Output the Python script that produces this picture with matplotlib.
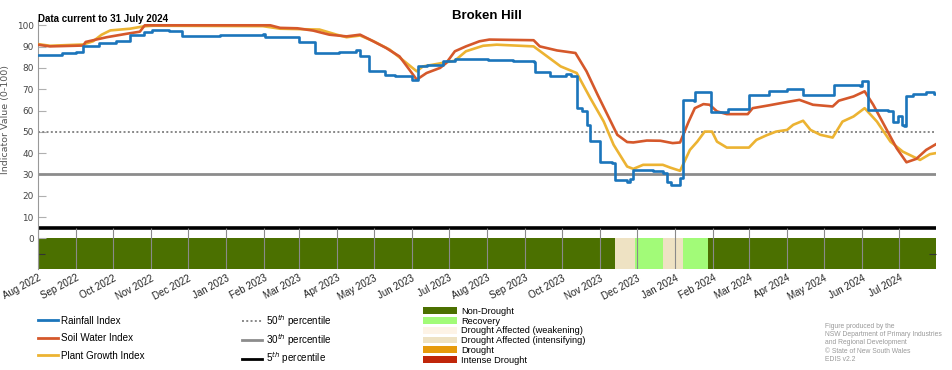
import matplotlib.pyplot as plt
import matplotlib.dates as mdates
from matplotlib.lines import Line2D
from matplotlib.patches import Patch
import pandas as pd

# Rainfall Index (step series: value holds from the date onward)
rain_dates = ['2022-08-01', '2022-08-21', '2022-09-01', '2022-09-07', '2022-09-20', '2022-10-04',
              '2022-10-12', '2022-10-15', '2022-10-26', '2022-11-02', '2022-11-16', '2022-11-26',
              '2022-12-27', '2023-01-31', '2023-02-02', '2023-03-01', '2023-03-14', '2023-04-03',
              '2023-04-17', '2023-04-20', '2023-04-27', '2023-05-10', '2023-05-18', '2023-06-01',
              '2023-06-06', '2023-06-13', '2023-06-26', '2023-07-06', '2023-08-02', '2023-08-22',
              '2023-09-08', '2023-09-09', '2023-09-21', '2023-10-04', '2023-10-08', '2023-10-13',
              '2023-10-17', '2023-10-21', '2023-10-24', '2023-11-01', '2023-11-11', '2023-11-13',
              '2023-11-23', '2023-11-25', '2023-11-28', '2023-12-14', '2023-12-22', '2023-12-25',
              '2023-12-29', '2024-01-05', '2024-01-07', '2024-01-16', '2024-01-17', '2024-01-30',
              '2024-02-13', '2024-03-01', '2024-03-17', '2024-04-01', '2024-04-14', '2024-05-09',
              '2024-05-30', '2024-06-01', '2024-06-06', '2024-06-22', '2024-06-26', '2024-06-30',
              '2024-07-03', '2024-07-05', '2024-07-07', '2024-07-12', '2024-07-23', '2024-07-29',
              '2024-07-31']
rain_vals = [86.2, 87.0, 87.5, 90.1, 91.7, 92.8,
             92.4, 95.6, 96.9, 97.6, 97.3, 95.2,
             95.5, 96.0, 94.4, 92.2, 87.0, 87.3,
             88.2, 85.4, 78.4, 76.8, 76.3, 74.4,
             80.7, 81.2, 83.1, 84.3, 83.9, 83.2,
             82.8, 77.9, 76.0, 77.0, 76.0, 61.1,
             60.0, 53.3, 45.8, 36.0, 35.3, 27.4,
             26.6, 28.0, 32.1, 31.4, 30.6, 26.6,
             25.1, 28.2, 65.0, 64.3, 68.7, 59.3,
             60.7, 67.4, 69.0, 70.2, 67.4, 72.1,
             71.4, 73.7, 60.3, 59.6, 54.8, 57.5,
             53.3, 52.5, 66.6, 67.7, 68.7, 67.9,
             67.9]

# Soil Water Index
soil_dates = ['2022-08-01', '2022-08-11', '2022-09-07', '2022-09-09', '2022-09-26', '2022-10-12',
              '2022-10-23', '2022-10-27', '2023-02-06', '2023-02-14', '2023-02-28', '2023-03-13',
              '2023-03-26', '2023-04-09', '2023-04-20', '2023-04-28', '2023-05-11', '2023-05-22',
              '2023-05-30', '2023-06-05', '2023-06-13', '2023-06-24', '2023-06-29', '2023-07-06',
              '2023-07-15', '2023-07-26', '2023-08-03', '2023-09-08', '2023-09-13', '2023-09-27',
              '2023-10-12', '2023-10-21', '2023-10-30', '2023-11-07', '2023-11-15', '2023-11-23',
              '2023-11-28', '2023-12-09', '2023-12-20', '2023-12-30', '2024-01-05', '2024-01-12',
              '2024-01-17', '2024-01-24', '2024-01-29', '2024-02-04', '2024-02-12', '2024-02-29',
              '2024-03-04', '2024-03-17', '2024-04-01', '2024-04-11', '2024-04-22', '2024-05-08',
              '2024-05-13', '2024-05-25', '2024-06-03', '2024-06-10', '2024-06-21', '2024-06-29',
              '2024-07-07', '2024-07-15', '2024-07-23', '2024-07-31']
soil_vals = [90.9, 90.1, 90.5, 92.2, 94.4, 96.0,
             97.0, 100.0, 100.0, 98.8, 98.6, 97.5,
             95.6, 94.8, 95.6, 93.3, 89.4, 85.4,
             79.2, 74.5, 77.6, 80.0, 82.3, 87.8,
             90.1, 92.5, 93.3, 93.0, 90.1, 88.2,
             87.0, 78.4, 67.4, 58.0, 48.6, 45.2,
             45.0, 45.9, 45.8, 44.7, 45.0, 54.8,
             61.1, 63.0, 62.7, 59.6, 58.3, 58.3,
             61.1, 62.4, 64.0, 65.0, 62.7, 61.9,
             64.6, 66.6, 69.0, 62.7, 50.9, 42.3,
             35.7, 37.3, 41.5, 44.2]

# Plant Growth Index
plant_dates = ['2022-08-01', '2022-08-11', '2022-09-07', '2022-09-15', '2022-09-22', '2022-09-29',
               '2022-10-15', '2022-10-26', '2022-11-03', '2023-01-31', '2023-02-14', '2023-03-18',
               '2023-04-01', '2023-04-09', '2023-04-20', '2023-05-01', '2023-05-14', '2023-05-26',
               '2023-06-05', '2023-06-10', '2023-06-18', '2023-07-06', '2023-07-15', '2023-07-29',
               '2023-08-09', '2023-09-08', '2023-09-19', '2023-09-30', '2023-10-13', '2023-10-24',
               '2023-11-04', '2023-11-12', '2023-11-23', '2023-11-28', '2023-12-06', '2023-12-22',
               '2023-12-28', '2024-01-05', '2024-01-08', '2024-01-13', '2024-01-19', '2024-01-25',
               '2024-01-31', '2024-02-04', '2024-02-12', '2024-03-01', '2024-03-07', '2024-03-15',
               '2024-03-23', '2024-04-01', '2024-04-06', '2024-04-14', '2024-04-20', '2024-04-28',
               '2024-05-08', '2024-05-16', '2024-05-25', '2024-06-03', '2024-06-13', '2024-06-24',
               '2024-07-04', '2024-07-18', '2024-07-26', '2024-07-31']
plant_vals = [91.2, 90.4, 91.0, 92.5, 95.6, 97.6,
              98.4, 99.5, 99.8, 99.6, 98.4, 98.0,
              95.6, 94.4, 95.2, 92.5, 88.6, 83.1,
              78.4, 80.7, 81.5, 83.4, 87.8, 90.4,
              90.9, 90.1, 85.4, 80.7, 77.6, 65.9,
              54.8, 43.9, 33.7, 32.6, 34.5, 34.5,
              33.2, 31.7, 35.3, 41.5, 45.4, 50.1,
              50.1, 45.4, 42.6, 42.6, 46.2, 48.3,
              50.1, 50.9, 53.3, 55.2, 50.9, 48.6,
              47.3, 54.8, 57.2, 61.1, 54.8, 45.4,
              40.7, 36.8, 39.5, 40.0]

# drought category timeline (category starting at each date)
cat_names = ['Non-Drought', 'Recovery', 'Drought Affected (weakening)',
             'Drought Affected (intensifying)', 'Drought', 'Intense Drought']
cat_colors = ['#4b7000', '#a2fb78', '#fdf3e6', '#eee2c3', '#e69a0c', '#c0260a']
cat_starts = ['2022-08-01', '2023-11-13', '2023-11-29', '2023-12-22', '2024-01-07', '2024-01-28']
cat_values = ['Non-Drought', 'Drought Affected (intensifying)', 'Recovery',
              'Drought Affected (intensifying)', 'Recovery', 'Non-Drought']
period_end = '2024-07-31'

percentiles = [50, 30, 5]

c_rain = '#1b75bb'
c_soil = '#d5582b'
c_plant = '#ecb332'

fig = plt.figure(figsize=(9.52, 3.70), dpi=100)
ax = fig.add_axes([0.0396, 0.273, 0.9436, 0.673])

x0 = mdates.date2num(pd.Timestamp(cat_starts[0]))
x1 = mdates.date2num(pd.Timestamp(period_end))
ybot = -14.4

# drought category bar
starts = [mdates.date2num(pd.Timestamp(d)) for d in cat_starts]
ends = starts[1:] + [x1]
for s, e, v in zip(starts, ends, cat_values):
    ax.broken_barh([(s, e - s)], (ybot, -ybot), facecolors=cat_colors[cat_names.index(v)],
                   edgecolor='none', zorder=1)

# percentile lines
ax.axhline(percentiles[0], color='#888888', lw=1.4, ls=(0, (1, 1.2)), zorder=2)
ax.axhline(percentiles[1], color='#8c8c8c', lw=2, zorder=2)
ax.axhline(percentiles[2], color='black', lw=2.6, zorder=2)

ax.plot(pd.to_datetime(rain_dates), rain_vals, color=c_rain, lw=1.9,
        drawstyle='steps-post', zorder=5)
ax.plot(pd.to_datetime(soil_dates), soil_vals, color=c_soil, lw=1.9, zorder=4)
ax.plot(pd.to_datetime(plant_dates), plant_vals, color=c_plant, lw=1.9, zorder=3)

ax.set_xlim(x0, x1)
ax.set_ylim(ybot, 102.5)

ax.xaxis.set_major_locator(mdates.MonthLocator())
ax.xaxis.set_major_formatter(mdates.DateFormatter('%b %Y'))
ticks = [t for t in ax.get_xticks() if x0 <= t < x1]
ax.vlines(ticks, ybot, percentiles[2], color='#8a8a8a', lw=0.8, zorder=2)
ax.tick_params(axis='x', length=0, pad=3, labelsize=7, labelcolor='#222222')
for lab in ax.get_xticklabels():
    lab.set_rotation(28)
    lab.set_ha('right')
    lab.set_rotation_mode('anchor')
    lab.set_family('Liberation Sans')

ax.set_yticks(range(0, 101, 10))
ax.set_yticks([-7.4], minor=True)
ax.tick_params(axis='y', direction='in', length=6, width=0.8, color='#b0b0b0',
               labelsize=6.4, labelcolor='#444444', pad=3)
ax.tick_params(axis='y', which='minor', direction='in', length=5, width=0.8,
               color='#333333', right=True)
ax.set_ylabel('Indicator Value (0-100)', fontsize=6.8, color='#555555')
ax.yaxis.set_label_coords(-0.0305, 0.602)

for side in ['top', 'right', 'bottom']:
    ax.spines[side].set_visible(False)
ax.spines['left'].set_color('#999999')
ax.spines['left'].set_linewidth(0.8)

fig.text(0.5112, 1 - 19 / 370, 'Broken Hill', ha='center', va='baseline',
         fontsize=9.5, fontweight='bold', family='Liberation Sans')
fig.text(0.0396, 1 - 21.5 / 370, 'Data current to 31 July 2024', ha='left', va='baseline',
         fontsize=7, fontweight='bold', family='Liberation Sans')

lp = dict(frameon=False, borderpad=0, borderaxespad=0,
          prop={'family': 'Liberation Sans', 'size': 7.1})
h1 = [Line2D([], [], color=c, lw=2) for c in [c_rain, c_soil, c_plant]]
fig.legend(h1, ['Rainfall Index', 'Soil Water Index', 'Plant Growth Index'],
           loc='upper left', bbox_to_anchor=(37.7 / 952, 1 - 315.5 / 370),
           handlelength=2.1, handletextpad=0.3, labelspacing=0.78, **lp)

h2 = [Line2D([], [], color='#888888', lw=1.4, ls=(0, (1, 1.2))),
      Line2D([], [], color='#8c8c8c', lw=2),
      Line2D([], [], color='black', lw=2)]
fig.legend(h2, ['%d$^{th}$ percentile' % p for p in percentiles],
           loc='upper left', bbox_to_anchor=(241.7 / 952, 1 - 313 / 370),
           handlelength=2.1, handletextpad=0.35, labelspacing=0.3, **lp)

h3 = [Patch(facecolor=c, edgecolor='none') for c in cat_colors]
fig.legend(h3, cat_names, loc='upper left', bbox_to_anchor=(423.3 / 952, 1 - 307 / 370),
           handlelength=3.6, handleheight=0.75, handletextpad=0.45, labelspacing=0.08,
           frameon=False, borderpad=0, borderaxespad=0,
           prop={'family': 'Liberation Sans', 'size': 6.7})

fig.text(825 / 952, 1 - 323 / 370,
         'Figure produced by the\nNSW Department of Primary Industries\n'
         'and Regional Development\n\u00a9 State of New South Wales\nEDIS v2.2',
         ha='left', va='top', fontsize=4.9, color='#9a9a9a', family='Liberation Sans',
         linespacing=1.25)

fig.savefig('out.png', dpi=100)
